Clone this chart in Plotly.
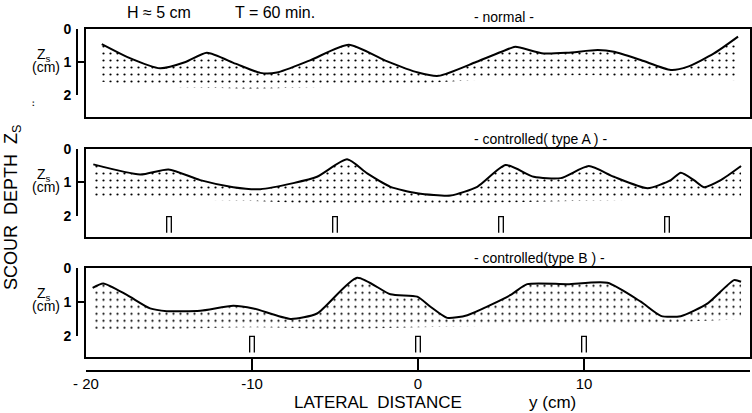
import plotly.graph_objects as go

# ---- data: lateral position y (cm) and scour depth Zs (cm) ----
normal_y = [-19.05, -17.5, -15.54, -14.0, -12.72, -11.0, -9.5, -8.5, -6.5, -4.17,
            -2.0, 0.0, 1.24, 3.5, 5.58, 5.88, 7.57, 9.0, 10.83, 11.8, 13.42, 15.23,
            16.26, 17.83, 19.28]
normal_z = [0.46, 0.85, 1.19, 1.0, 0.72, 1.05, 1.33, 1.32, 0.95, 0.48,
            0.95, 1.32, 1.42, 1.0, 0.58, 0.54, 0.74, 0.72, 0.64, 0.69, 0.94, 1.24,
            1.14, 0.74, 0.23]
normal_low_y = [-19.05, -15.0, -10.0, -5.0, 0.0, 5.0, 10.0, 15.0, 19.28]
normal_low_z = [1.6, 1.75, 1.8, 1.75, 1.65, 1.5, 1.4, 1.5, 1.55]

typeA_y = [-19.56, -16.74, -15.03, -13.12, -11.13, -9.5, -7.51, -6.08, -4.27, -3.06,
           -1.66, -0.05, 1.96, 3.57, 5.28, 6.97, 8.6, 10.29, 11.8, 13.83, 15.23,
           15.83, 16.62, 17.22, 18.24, 19.46]
typeA_z = [0.46, 0.76, 0.61, 0.93, 1.14, 1.2, 1.02, 0.83, 0.31, 0.73,
           1.13, 1.32, 1.39, 1.13, 0.48, 0.83, 0.87, 0.51, 0.83, 1.17, 0.93,
           0.71, 0.93, 1.14, 0.93, 0.51]
typeA_low_y = [-19.56, -15.0, -10.0, -5.0, 0.0, 5.0, 10.0, 15.0, 19.46]
typeA_low_z = [1.45, 1.5, 1.55, 1.65, 1.65, 1.6, 1.55, 1.5, 1.45]
typeA_piles = [-15, -5, 5, 15]

typeB_y = [-19.6, -18.96, -17.54, -16.14, -15.13, -13.12, -11.13, -9.92, -7.69, -6.08,
           -3.67, -1.66, -0.05, 0.75, 1.76, 2.97, 5.58, 6.58, 9.0, 11.41, 13.42,
           14.63, 15.83, 17.45, 19.04, 19.46]
typeB_z = [0.58, 0.45, 0.79, 1.19, 1.27, 1.26, 1.11, 1.19, 1.5, 1.34,
           0.28, 0.77, 0.84, 1.14, 1.47, 1.39, 0.79, 0.47, 0.47, 0.43, 0.99,
           1.41, 1.42, 1.04, 0.35, 0.4]
typeB_low_y = [-19.6, -15.0, -10.0, -5.0, 0.0, 5.0, 10.0, 15.0, 19.46]
typeB_low_z = [1.8, 1.8, 1.75, 1.8, 1.75, 1.7, 1.65, 1.6, 1.5]
typeB_piles = [-10, 0, 10]

depth_ticks = [0, 1, 2]
dist_ticks = [-20, -10, 0, 10, 20]
dist_labels = ["- 20", "-10", "0", "10", "20"]

W, H = 752, 413
FONT = "Liberation Sans"


def fx(p):
    return p / W


def fy(p):
    return 1 - p / H


def label(text, x, y, size, xanchor="center", yanchor="middle", **kw):
    return dict(text=text, x=fx(x), y=fy(y), xref="paper", yref="paper",
                xanchor=xanchor, yanchor=yanchor, showarrow=False,
                font=dict(size=size, family=FONT, color="black"), **kw)


x_dom = [fx(86), fx(750)]
scale_x = fx(77)      # depth scale bracket position
panels = [
    # (surface y, surface z, lower y, lower z, piles, top px, bottom px, zmax, title, title px)
    (normal_y, normal_z, normal_low_y, normal_low_z, [], 29, 117, 2.667,
     "- normal -", 17),
    (typeA_y, typeA_z, typeA_low_y, typeA_low_z, typeA_piles, 149, 237, 2.63,
     "- controlled( type A ) -", 139),
    (typeB_y, typeB_z, typeB_low_y, typeB_low_z, typeB_piles, 268.3, 357, 2.63,
     "- controlled(type B ) -", 258),
]

fig = go.Figure()
layout = dict(
    template="none",
    width=W, height=H, margin=dict(l=0, r=0, t=0, b=0, autoexpand=False),
    paper_bgcolor="white", plot_bgcolor="rgba(0,0,0,0)", showlegend=False,
    font=dict(family=FONT, color="black", size=14),
)
shapes = []
annotations = []

for i, (sy, sz, ly, lz, piles, top, bot, zmax, title, ty) in enumerate(panels, start=1):
    xa = "x" if i == 1 else f"x{i}"
    ya = "y" if i == 1 else f"y{i}"
    # stippled sediment between the lower bound and the scoured bed surface
    fig.add_trace(go.Scatter(x=ly, y=lz, mode="lines",
                             line=dict(width=0, color="white", shape="spline"),
                             xaxis=xa, yaxis=ya, hoverinfo="skip"))
    fig.add_trace(go.Scatter(x=sy, y=sz, mode="lines",
                             line=dict(color="black", width=2, shape="spline", smoothing=0.6),
                             fill="tonexty", fillcolor="white",
                             fillpattern=dict(shape=".", size=7, solidity=0.08,
                                              fgcolor="black", bgcolor="white"),
                             xaxis=xa, yaxis=ya, hoverinfo="skip"))
    dom_y = [fy(bot), fy(top)]
    layout[f"xaxis{'' if i == 1 else i}"] = dict(
        domain=x_dom, range=[-20, 20], anchor=ya, showline=True, mirror=True,
        linecolor="black", linewidth=1.6, showticklabels=False, ticks="",
        showgrid=False, zeroline=False, automargin=False)
    layout[f"yaxis{'' if i == 1 else i}"] = dict(
        domain=dom_y, range=[zmax, 0], anchor=xa, showline=True, mirror=True,
        linecolor="black", linewidth=1.6, showticklabels=False, ticks="",
        showgrid=False, zeroline=False, automargin=False)
    # depth scale bracket: a free axis covering 0..2 cm on the same scale
    zlo, zhi = depth_ticks[0], depth_ticks[-1]
    span = dom_y[1] - dom_y[0]
    k = i + 3
    layout[f"yaxis{k}"] = dict(
        domain=[dom_y[1] - zhi / zmax * span, dom_y[1] - zlo / zmax * span],
        anchor="free", position=scale_x, side="left",
        range=[zhi, zlo], tickvals=depth_ticks, ticks="inside", ticklen=6,
        tickwidth=1.6, tickcolor="black", showline=True, linecolor="black",
        linewidth=1.6, showgrid=False, zeroline=False, automargin=False,
        ticklabelstandoff=2,
        tickfont=dict(size=14, family=FONT, color="black", weight="bold"))
    fig.add_trace(go.Scatter(x=[None], y=[None], xaxis=xa, yaxis=f"y{k}",
                             hoverinfo="skip"))
    # pile markers
    for p in piles:
        shapes.append(dict(type="path", xref=xa, yref=ya,
                           path=f"M {p-0.14},2.5 L {p-0.14},2.02 L {p+0.14},2.02 L {p+0.14},2.5",
                           line=dict(color="black", width=1.3)))
    # panel caption and depth unit label
    annotations.append(label(title, 472, ty, 14, xanchor="left"))
    zc = top + 33
    annotations.append(label("Z<sub>s</sub>", 44, zc - 7, 14))
    annotations.append(label("(cm)", 46, zc + 5, 14))

# lateral distance scale below the panels
layout["xaxis4"] = dict(
    overlaying="x3", anchor="free", position=fy(370.5), domain=x_dom, range=[-20, 20],
    tickvals=dist_ticks, ticktext=dist_labels, ticks="inside", ticklen=11,
    tickwidth=1.5, tickcolor="black", showline=True, linecolor="black", linewidth=1.6,
    showgrid=False, zeroline=False, automargin=False,
    tickfont=dict(size=15, family=FONT, color="black"))
fig.add_trace(go.Scatter(x=[None], y=[None], xaxis="x4", yaxis="y3", hoverinfo="skip"))

annotations += [
    label("H ≈ 5 cm", 125, 13, 16, xanchor="left"),
    label("T = 60 min.", 233, 13, 16, xanchor="left"),
    label("SCOUR  DEPTH  Z<sub>S</sub>", 12, 208, 18, textangle=-90),
    label("..", 30, 104, 12, textangle=-90),
    label("LATERAL  DISTANCE", 292, 402, 17, xanchor="left"),
    label("y (cm)", 527, 402, 17, xanchor="left"),
]

layout["shapes"] = shapes
layout["annotations"] = annotations
fig.update_layout(**layout)
fig.write_html("out.html")
